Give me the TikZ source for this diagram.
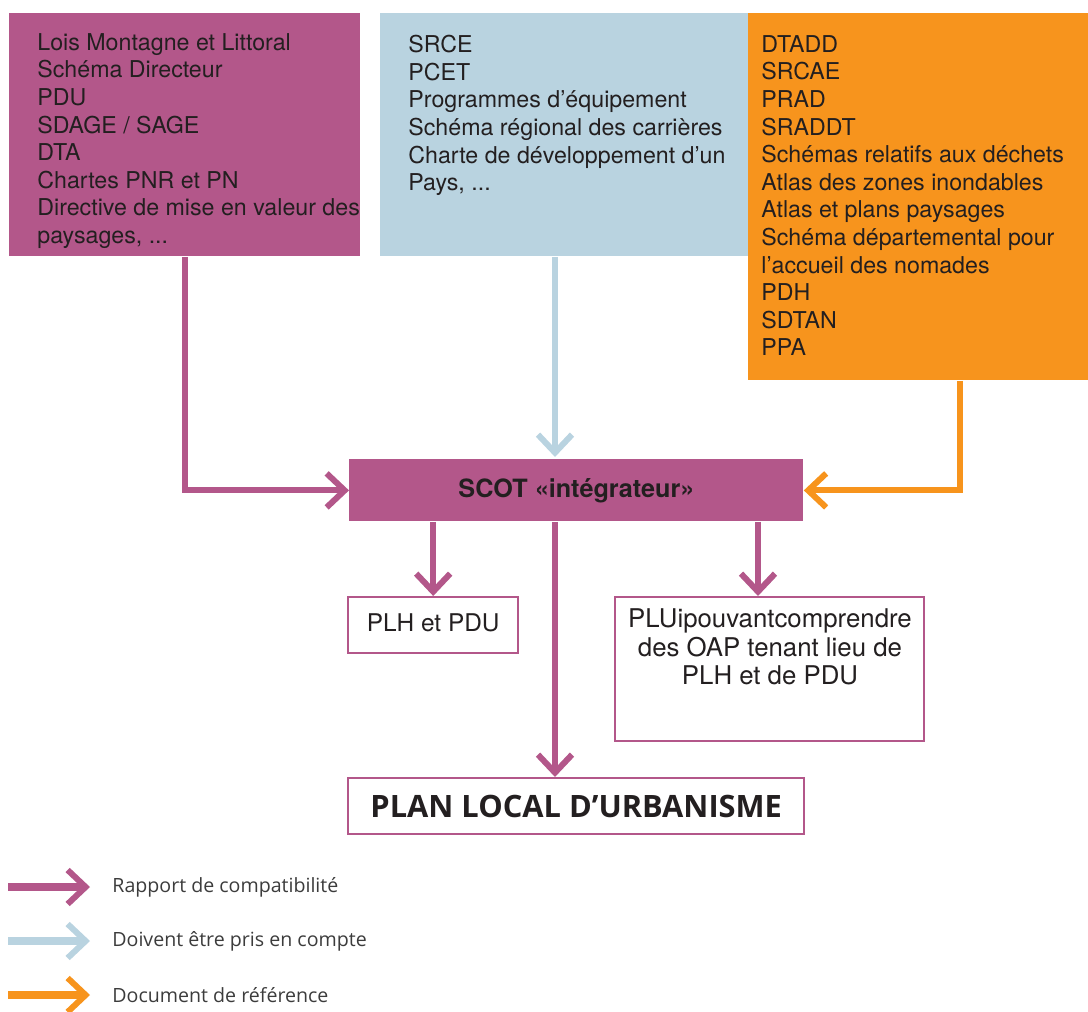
\documentclass[tikz,border=0pt]{standalone}
\usepackage{fontspec}
\setmainfont{TeX Gyre Heros}
\newfontfamily\legendfont{Open Sans}
\usetikzlibrary{arrows.meta,calc}
\definecolor{plumc}{HTML}{B3578A}
\definecolor{skyc}{HTML}{B9D3E0}
\definecolor{orangec}{HTML}{F7941D}
\definecolor{inkc}{HTML}{231F20}
\definecolor{legc}{HTML}{3C3C3C}
\tikzset{
  docbox/.style={draw=none, inner sep=0pt, anchor=north west},
  outbox/.style={draw=plumc, line width=1.2pt, inner sep=0pt, anchor=north west, text=inkc},
  listtext/.style={anchor=north west, inner sep=0pt, align=left, text=inkc,
    font=\fontsize{11.6}{13.8}\selectfont},
  legtext/.style={anchor=west, inner sep=0pt, text=legc, font=\legendfont\fontsize{9.8}{12}\selectfont},
  link/.style={line width=3pt, line join=miter,
    -{Straight Barb[length=9pt,width=17pt,line width=3pt]}}
}
\begin{document}
\begin{tikzpicture}[x=0.5pt, y=-0.5pt]
\useasboundingbox (0,0) rectangle (1088,1012);

\node[docbox, fill=plumc, minimum width=175.5pt, minimum height=121.5pt] (lois) at (9,13) {};
\node[docbox, fill=skyc, minimum width=184pt, minimum height=121.5pt] (srce) at (380,13) {};
\node[docbox, fill=orangec, minimum width=170pt, minimum height=183.5pt] (dtadd) at (748,13) {};

\node[listtext] (loistxt) at (37,33) {Lois Montagne et Littoral\\Schéma Directeur\\PDU\\SDAGE / SAGE\\DTA\\Chartes PNR et PN\\Directive de mise en valeur des\\paysages, ...};
\node[listtext] (srcetxt) at (408,35) {SRCE\\PCET\\Programmes d’équipement\\Schéma régional des carrières\\Charte de développement d’un\\Pays, ...};
\node[listtext] (dtaddtxt) at (761,35) {DTADD\\SRCAE\\PRAD\\SRADDT\\Schémas relatifs aux déchets\\Atlas des zones inondables\\Atlas et plans paysages\\Schéma départemental pour\\l’accueil des nomades\\PDH\\SDTAN\\PPA};

\node[docbox, fill=plumc, text=inkc, minimum width=227pt, minimum height=31pt,
  font=\bfseries\fontsize{12.6}{15}\selectfont] (scot) at (349,459) {SCOT «intégrateur»};

\node[outbox, minimum width=85pt, minimum height=28pt, font=\fontsize{12.2}{14}\selectfont] (plh) at (347,596) {\raisebox{3pt}{PLH et PDU}};
\node[outbox, minimum width=154.5pt, minimum height=72pt] (plui) at (614,596) {};
\node[anchor=north, inner sep=0pt, align=center, text=inkc,
  font=\fontsize{12.9}{14.4}\selectfont] (pluitxt) at (770,608) {PLUipouvantcomprendre\\des OAP tenant lieu de\\PLH et de PDU};
\node[outbox, minimum width=228pt, minimum height=28pt,
  font=\legendfont\bfseries\fontsize{15.4}{17}\selectfont] (plan) at (347,777) {PLAN LOCAL D’URBANISME};

\coordinate (skyin) at (555,457);
\coordinate (orin) at (960,0);
\coordinate (midline) at (555,0);
\coordinate (pluiin) at (758,0);

\draw[link, plumc] (lois.south) |- (scot.west);
\draw[link, skyc] (skyin |- srce.south) -- (skyin);
\draw[link, orangec] (orin |- dtadd.south) |- (scot.east);

\draw[link, plumc] (scot.south -| plh.north) -- (plh.north);
\draw[link, plumc] (scot.south -| midline) -- (plan.north -| midline);
\draw[link, plumc] (scot.south -| pluiin) -- (plui.north -| pluiin);

\node[legtext] (leg1) at (112,887) {Rapport de compatibilité};
\node[legtext] (leg2) at (112,941) {Doivent être pris en compte};
\node[legtext] (leg3) at (112,995) {Document de référence};
\draw[link, plumc, line width=3.6pt, shorten >=11pt] ($(leg1.west)+(-104,0)$) -- (leg1.west);
\draw[link, skyc, line width=3.6pt, shorten >=11pt] ($(leg2.west)+(-104,0)$) -- (leg2.west);
\draw[link, orangec, line width=3.6pt, shorten >=11pt] ($(leg3.west)+(-104,0)$) -- (leg3.west);

\end{tikzpicture}
\end{document}
